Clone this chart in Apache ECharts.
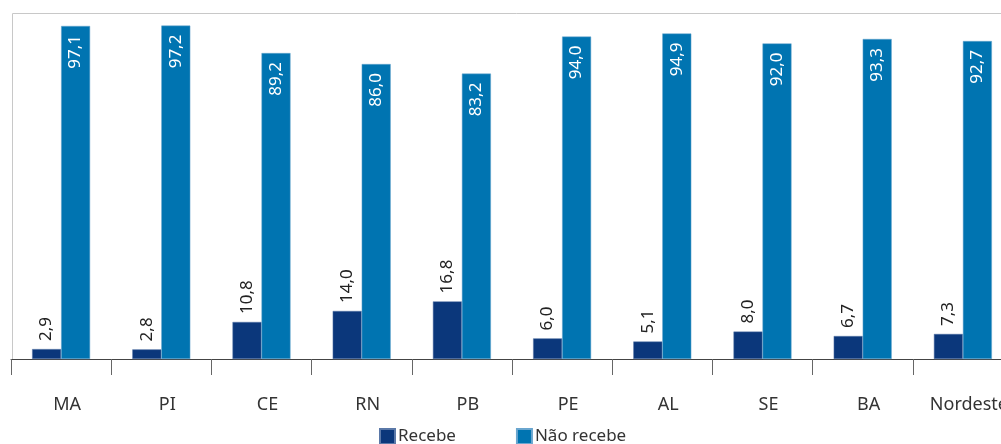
<!DOCTYPE html>
<html>
<head>
<meta charset="utf-8">
<script src="https://cdn.jsdelivr.net/npm/echarts@6/dist/echarts.min.js"></script>
<style>
  html, body { margin: 0; padding: 0; background: #fff; overflow: hidden; }
  #chart { width: 1020px; height: 444px; }
</style>
</head>
<body>
<div id="chart"></div>
<script>
// Estados do Nordeste e região
const categories = ['MA', 'PI', 'CE', 'RN', 'PB', 'PE', 'AL', 'SE', 'BA', 'Nordeste'];
// Percentuais (%)
const recebe = [2.9, 2.8, 10.8, 14.0, 16.8, 6.0, 5.1, 8.0, 6.7, 7.3];
const naoRecebe = [97.1, 97.2, 89.2, 86.0, 83.2, 94.0, 94.9, 92.0, 93.3, 92.7];

const FONT = '"Noto Sans", "Open Sans", sans-serif';
const fmt = p => p.value.toFixed(1).replace('.', ',');

const chart = echarts.init(document.getElementById('chart'), null, { renderer: 'canvas' });
chart.setOption({
  animation: false,
  textStyle: { fontFamily: FONT },
  grid: { left: 11, top: 16, width: 1002, height: 343, containLabel: false },
  graphic: [{
    type: 'polyline',
    shape: { points: [[12.5, 359], [12.5, 13.5], [1020, 13.5]] },
    style: { stroke: '#c8c8c8', lineWidth: 1, fill: null },
    silent: true
  }],
  legend: {
    data: ['Recebe', 'Não recebe'],
    left: 379,
    top: 428,
    itemWidth: 15,
    itemHeight: 15,
    itemGap: 60,
    icon: 'rect',
    padding: 0,
    textStyle: { fontSize: 17, color: '#333', fontFamily: FONT, padding: [0, 0, 0, -2] }
  },
  xAxis: {
    type: 'category',
    data: categories,
    axisLine: { lineStyle: { color: '#444', width: 1 } },
    axisTick: { show: true, length: 16, lineStyle: { color: '#666' } },
    axisLabel: {
      interval: 0,
      hideOverlap: false,
      margin: 37,
      fontSize: 18,
      color: '#333',
      fontFamily: FONT,
      padding: [0, 0, 0, 12]
    }
  },
  yAxis: {
    type: 'value',
    min: 0,
    max: 100,
    show: false,
    splitLine: { show: false }
  },
  series: [
    {
      name: 'Recebe',
      type: 'bar',
      data: recebe,
      barWidth: 29,
      barGap: '0%',
      itemStyle: { color: '#0b377b', borderColor: '#5a78a8', borderWidth: 0.5 },
      label: {
        show: true,
        position: 'top',
        rotate: 90,
        align: 'left',
        verticalAlign: 'middle',
        distance: 8,
        fontSize: 17,
        color: '#222',
        fontFamily: FONT,
        formatter: fmt
      }
    },
    {
      name: 'Não recebe',
      type: 'bar',
      data: naoRecebe,
      barWidth: 29,
      itemStyle: { color: '#0074b1', borderColor: '#6aa6cf', borderWidth: 0.5 },
      label: {
        show: true,
        position: 'insideTop',
        rotate: 90,
        align: 'right',
        verticalAlign: 'middle',
        distance: 9,
        fontSize: 17,
        color: '#fff',
        fontFamily: FONT,
        formatter: fmt
      }
    }
  ]
});
</script>
</body>
</html>
